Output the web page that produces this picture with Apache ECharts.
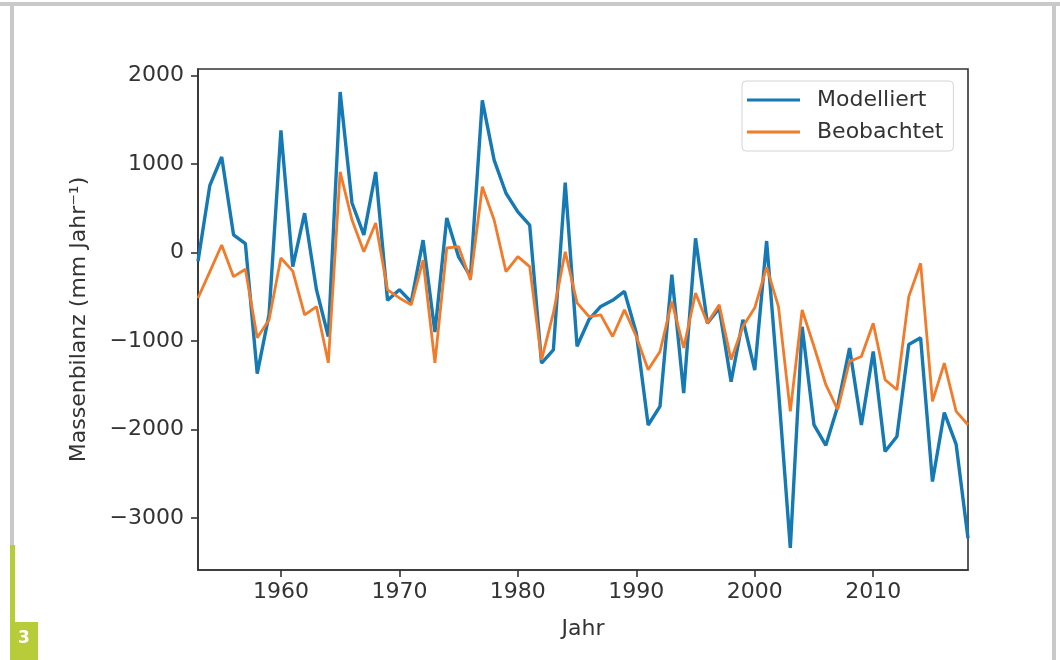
<!DOCTYPE html>
<html>
<head>
<meta charset="utf-8">
<script src="https://cdn.jsdelivr.net/npm/echarts@6/dist/echarts.min.js"></script>
<style>
  html, body { margin: 0; padding: 0; background: #fff; }
  #chart { width: 1060px; height: 660px; }
</style>
</head>
<body>
<div id="chart"></div>
<script>
const years = [1953, 1954, 1955, 1956, 1957, 1958, 1959, 1960, 1961, 1962, 1963, 1964, 1965,
  1966, 1967, 1968, 1969, 1970, 1971, 1972, 1973, 1974, 1975, 1976, 1977, 1978, 1979, 1980,
  1981, 1982, 1983, 1984, 1985, 1986, 1987, 1988, 1989, 1990, 1991, 1992, 1993, 1994, 1995,
  1996, 1997, 1998, 1999, 2000, 2001, 2002, 2003, 2004, 2005, 2006, 2007, 2008, 2009, 2010,
  2011, 2012, 2013, 2014, 2015, 2016, 2017, 2018];

const modelliert = [-100, 760, 1080, 200, 100, -1370, -700, 1380, -160, 445, -420, -950, 1815,
  560, 200, 910, -540, -420, -560, 140, -900, 390, -50, -270, 1720, 1045, 670, 460,
  310, -1250, -1100, 790, -1060, -760, -610, -540, -440, -910, -1950, -1740, -250, -1590, 160,
  -800, -630, -1460, -760, -1330, 130, -1550, -3340, -840, -1950, -2180, -1740, -1080, -1950, -1120,
  -2250, -2080, -1040, -965, -2590, -1810, -2170, -3230];

const beobachtet = [-514, -216, 85, -273, -190, -965, -760, -62, -210, -705, -611, -1247, 912,
  367, 9, 333, -423, -514, -592, -85, -1247, 51, 66, -310, 743, 367, -216, -47,
  -160, -1213, -683, 9, -570, -724, -705, -950, -649, -950, -1326, -1119, -555, -1078, -457,
  -796, -592, -1213, -837, -626, -165, -611, -1797, -650, -1063, -1495, -1778, -1232, -1176, -799,
  -1439, -1552, -499, -122, -1684, -1251, -1797, -1947];

const xTicks = [1960, 1970, 1980, 1990, 2000, 2010];
const yTicks = [-3000, -2000, -1000, 0, 1000, 2000];

const fontFamily = 'DejaVu Sans';
const axisColor = '#333';
const textColor = '#333';

function pairs(vals) {
  return years.map((y, i) => [y, vals[i]]);
}

function fmtY(v) {
  return v < 0 ? '\u2212' + Math.abs(v) : String(v);
}

const chart = echarts.init(document.getElementById('chart'), null, { renderer: 'canvas' });

chart.setOption({
  backgroundColor: '#fff',
  animation: false,
  grid: {
    left: 198, top: 69, right: 92, bottom: 90,
    show: true, borderColor: axisColor, borderWidth: 1.6, backgroundColor: 'transparent'
  },
  graphic: [
    { type: 'rect', shape: { x: 0, y: 2, width: 1060, height: 4 }, style: { fill: '#c9c9c9' } },
    { type: 'rect', shape: { x: 10, y: 2, width: 4, height: 543 }, style: { fill: '#c9c9c9' } },
    { type: 'rect', shape: { x: 1052, y: 2, width: 4, height: 658 }, style: { fill: '#c9c9c9' } },
    { type: 'rect', shape: { x: 10, y: 545, width: 5, height: 115 }, style: { fill: '#b8cc3a' } },
    { type: 'rect', shape: { x: 10, y: 622, width: 28, height: 38 }, style: { fill: '#b8cc3a' } },
    { type: 'text', x: 18, y: 630, style: { text: '3', fill: '#fff', font: 'bold 17px ' + fontFamily } }
  ],
  legend: {
    orient: 'vertical',
    left: 742, top: 81,
    padding: [8, 10, 8, 5],
    itemWidth: 53, itemHeight: 3, itemGap: 10,
    icon: 'rect',
    backgroundColor: 'rgba(255,255,255,0.85)',
    borderColor: '#d4d4d4', borderWidth: 1, borderRadius: 4,
    textStyle: { fontFamily: fontFamily, fontSize: 22, color: textColor, padding: [0, 0, 0, 12] },
    data: ['Modelliert', 'Beobachtet']
  },
  xAxis: {
    type: 'value',
    min: 1953, max: 2018,
    name: 'Jahr',
    nameLocation: 'middle',
    nameGap: 48,
    nameTextStyle: { fontFamily: fontFamily, fontSize: 22, color: textColor },
    axisLine: { show: true, onZero: false, lineStyle: { color: axisColor, width: 1.6 } },
    axisTick: { show: true, length: 7, customValues: xTicks, lineStyle: { color: axisColor, width: 1.6 } },
    axisLabel: {
      customValues: xTicks, margin: 11,
      fontFamily: fontFamily, fontSize: 22, color: textColor,
      formatter: v => String(v)
    },
    splitLine: { show: false }
  },
  yAxis: {
    type: 'value',
    min: -3590, max: 2075,
    name: 'Massenbilanz (mm Jahr\u207B\u00B9)',
    nameLocation: 'middle',
    nameGap: 108,
    nameRotate: 90,
    nameTextStyle: { fontFamily: fontFamily, fontSize: 22, color: textColor },
    axisLine: { show: true, onZero: false, lineStyle: { color: axisColor, width: 1.6 } },
    axisTick: { show: true, length: 7, customValues: yTicks, lineStyle: { color: axisColor, width: 1.6 } },
    axisLabel: {
      customValues: yTicks, margin: 14,
      fontFamily: fontFamily, fontSize: 22, color: textColor,
      formatter: v => fmtY(v)
    },
    splitLine: { show: false }
  },
  series: [
    {
      name: 'Modelliert',
      type: 'line',
      data: pairs(modelliert),
      showSymbol: false,
      symbol: 'none',
      color: '#1579b4',
      lineStyle: { width: 3.4, color: '#1579b4' },
      z: 3
    },
    {
      name: 'Beobachtet',
      type: 'line',
      data: pairs(beobachtet),
      showSymbol: false,
      symbol: 'none',
      color: '#f27a29',
      lineStyle: { width: 2.8, color: '#f27a29' },
      z: 4
    }
  ]
});
</script>
</body>
</html>
